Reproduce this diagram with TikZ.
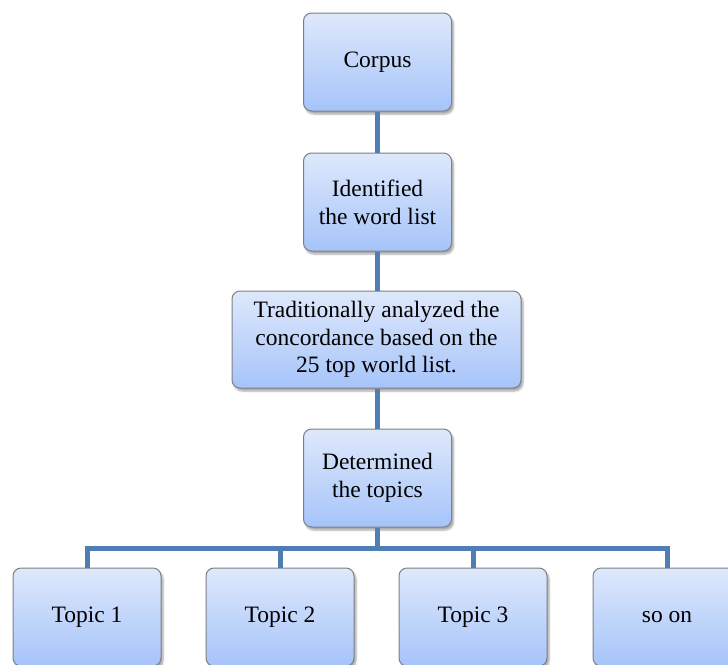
\documentclass[tikz,border=0pt]{standalone}
\usepackage{fontspec}
\setmainfont{Liberation Serif}
\newfontfamily\timesfont{Liberation Serif}
\usetikzlibrary{shadows.blur}
\definecolor{linkblue}{RGB}{79,126,181}
\definecolor{boxtop}{RGB}{222,232,251}
\definecolor{boxbot}{RGB}{166,196,250}
\definecolor{boxedge}{RGB}{125,128,134}
\begin{document}
\begin{tikzpicture}[x=1pt,y=-1pt,
  box/.style={draw=boxedge, line width=1pt, rounded corners=8pt,
    top color=boxtop, bottom color=boxbot, align=center,
    minimum width=148pt, minimum height=98pt, inner sep=0pt,
    font=\timesfont\fontsize{23.5}{27.8}\selectfont,
    blur shadow={shadow xshift=2pt, shadow yshift=-3pt, shadow blur steps=6, shadow opacity=35}},
  link/.style={draw=linkblue, line width=5pt}]
\useasboundingbox (0,0) rectangle (728,664);
\node[box] (corpus) at (377.5,62) {Corpus};
\node[box] (ident) at (377.5,202) {Identified\\the word list};
\node[box, minimum width=289pt, minimum height=97pt] (trad) at (376.5,339.5) {Traditionally analyzed the\\concordance based on the\\25 top world list.};
\node[box] (determ) at (377.5,478) {Determined\\the topics};
\node[box] (t1) at (87,617) {Topic 1};
\node[box] (t2) at (280,617) {Topic 2};
\node[box] (t3) at (473,617) {Topic 3};
\node[box] (t4) at (667,617) {so on};
\coordinate (bus) at (377.5,548.5);
\draw[link] (corpus.south) -- (ident.north);
\draw[link] (ident.south) -- (trad.north -| ident.south);
\draw[link] (trad.south -| determ.north) -- (determ.north);
\draw[link] (determ.south) -- (bus);
\draw[link, line join=miter] (t1.north) |- (bus) -| (t4.north);
\draw[link] (t2.north) -- (t2.north |- bus);
\draw[link] (t3.north) -- (t3.north |- bus);
\end{tikzpicture}
\end{document}
